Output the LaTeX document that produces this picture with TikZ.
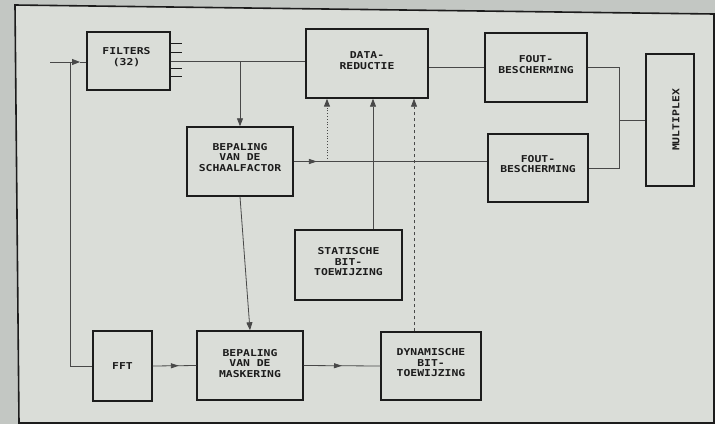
\documentclass[tikz,border=0pt]{standalone}
\usepackage{fontspec}
\newfontfamily\plotfont{DejaVu Sans Mono}[FakeStretch=1.2]
\usetikzlibrary{arrows.meta,decorations.markings}
\definecolor{paper}{HTML}{DADDD8}
\definecolor{outer}{HTML}{C3C7C3}
\definecolor{ink}{HTML}{1C1C1C}
\definecolor{wire}{HTML}{484848}
\begin{document}
\begin{tikzpicture}[x=1pt,y=-1pt,
  box/.style={draw=ink,line width=1.4pt,inner sep=0pt},
  txt/.style={font=\plotfont\bfseries\fontsize{9.5}{10.5}\selectfont,text=ink,align=center,inner sep=0pt},
  wireline/.style={draw=wire,line width=0.8pt},
  tip/.style={-{Triangle[length=8pt,width=6pt]}},
  midarrow/.style={postaction=decorate,decoration={markings,mark=at position #1 with {\arrow{Triangle[length=8pt,width=5pt]}}}}]
\useasboundingbox (0,0) rectangle (715,424);
\fill[outer] (0,0) rectangle (715,424);
\filldraw[fill=paper,draw=ink,line width=1.6pt] (15,5) -- (714,14) -- (714,423) -- (19,423) -- cycle;

% blocks
\node[box,minimum width=83pt,minimum height=58pt,label={[txt,yshift=4pt,xshift=-2pt]center:FILTERS\\(32)}] (filters) at (128.5,61) {};
\node[box,minimum width=122pt,minimum height=69pt,label={[txt,yshift=3pt]center:DATA-\\REDUCTIE}] (datared) at (367,63.5) {};
\node[box,minimum width=102pt,minimum height=69pt,label={[txt,yshift=3pt]center:FOUT-\\BESCHERMING}] (fout1) at (536,67.5) {};
\node[box,minimum width=100pt,minimum height=68pt,label={[txt,yshift=4pt]center:FOUT-\\BESCHERMING}] (fout2) at (538,168) {};
\node[box,minimum width=48pt,minimum height=132pt,label={[txt,rotate=90,yshift=-6pt]center:MULTIPLEX}] (multiplex) at (670,120) {};
\node[box,minimum width=106pt,minimum height=69pt,label={[txt,yshift=4pt]center:BEPALING\\VAN DE\\SCHAALFACTOR}] (schaal) at (240,161.5) {};
\node[box,minimum width=107pt,minimum height=70pt,label={[txt,yshift=3pt]center:STATISCHE\\BIT-\\TOEWIJZING}] (stat) at (348.5,265) {};
\node[box,minimum width=59pt,minimum height=70pt,label={[txt]center:FFT}] (fft) at (122.5,366) {};
\node[box,minimum width=106pt,minimum height=69pt,label={[txt,yshift=2pt]center:BEPALING\\VAN DE\\MASKERING}] (mask) at (250,365.5) {};
\node[box,minimum width=100pt,minimum height=68pt,label={[txt,yshift=3pt]center:DYNAMISCHE\\BIT-\\TOEWIJZING}] (dyn) at (431,366) {};

% input and branch to FFT
\coordinate (in) at (50,62);
\coordinate (jin) at (70,62);
\draw[wireline,tip] (in) -- (80,62);
\draw[wireline] (80,62) -- (filters.west |- in);
\draw[wireline] (jin) -- (jin |- fft.west) -- (fft.west);

% filter output stubs
\foreach \yy in {43,52,68,76}{
  \draw[ink,line width=1pt] (170,\yy) -- (182,\yy);
}
\draw[wireline] (filters.east) -- (filters.east -| datared.west);
\draw[wireline,tip] (schaal.north |- filters.east) -- (schaal.north);

% scale factor paths
\draw[wireline,midarrow=0.12] (schaal.east) -- (schaal.east -| fout2.west);
\draw[wireline,dotted,line width=1pt,tip] ([xshift=-40pt]datared.south |- schaal.east) -- ([xshift=-40pt]datared.south);
\draw[wireline,tip] ([xshift=24.5pt]stat.north) -- ([xshift=24.5pt]stat.north |- datared.south);
\draw[wireline,dashed,tip] ([xshift=-17pt]dyn.north) -- ([xshift=-17pt]dyn.north |- datared.south);
\draw[wireline,tip] (schaal.south) -- (mask.north);

% bottom chain
\draw[wireline,midarrow=0.6] (fft.east) -- (mask.west);
\draw[wireline,midarrow=0.5] (mask.east) -- (dyn.west);

% to error protection and multiplex
\draw[wireline] (fout1.west -| datared.east) -- (fout1.west);
\coordinate (jm) at (619,120);
\draw[wireline] (fout1.east) -| (jm);
\draw[wireline] (fout2.east) -| (jm);
\draw[wireline] (jm) -- (multiplex.west);
\end{tikzpicture}
\end{document}
